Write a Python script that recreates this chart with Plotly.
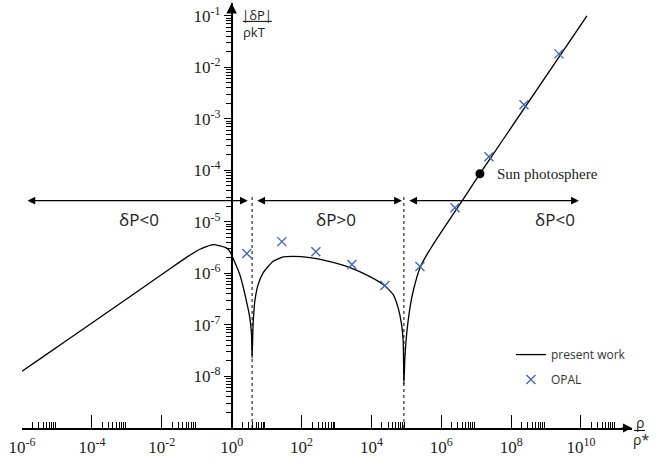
import numpy as np
import plotly.graph_objects as go

# ---- data ----
# present work: rho/rho*  and |dP|/(rho k T)
curve_rho = [1.0e-6, 3.60e-6, 8.69e-5, 1.36e-2, 5.10e-2, 0.1227, 0.295, 0.713, 0.887,
             1.714, 2.667, 3.319, 3.707, 3.855, 4.121, 4.613, 5.728, 7.98, 15.42, 29.79,
             57.68, 173.8, 645.7, 2455, 9120, 2.18e4, 4.21e4, 5.85e4, 7.33e4, 8.15e4,
             8.53e4, 9.10e4, 1.02e5, 1.27e5, 1.57e5, 2.45e5, 3.88e5, 1.11e6, 4.17e6,
             1.28e7, 5.83e7, 1.48e10]
curve_dp = [1.26e-8, 2.30e-8, 1.02e-7, 1.10e-6, 2.05e-6, 2.95e-6, 3.62e-6, 3.13e-6, 2.69e-6,
            9.51e-7, 2.88e-7, 1.37e-7, 6.52e-8, 2.30e-8, 1.02e-7, 2.88e-7, 6.08e-7, 1.03e-6,
            1.72e-6, 2.09e-6, 2.15e-6, 2.03e-6, 1.70e-6, 1.30e-6, 8.69e-7, 6.08e-7, 3.89e-7,
            2.15e-7, 1.02e-7, 4.83e-8, 7.0e-9, 2.30e-8, 6.52e-8, 2.15e-7, 4.51e-7, 1.28e-6,
            2.32e-6, 7.08e-6, 2.70e-5, 8.63e-5, 3.94e-4, 1.0e-1]

opal_rho = [2.72, 27.4, 258, 2770, 2.44e4, 2.45e5, 2.47e6, 2.32e7, 2.33e8, 2.34e9]
opal_dp = [2.43e-6, 4.15e-6, 2.65e-6, 1.49e-6, 5.81e-7, 1.36e-6, 1.89e-5, 1.85e-4, 1.88e-3, 1.83e-2]

sun_rho = [1.28e7]
sun_dp = [8.63e-5]

# sign-change densities (dotted lines) and their vertical extent
cusp_rho = [3.855, 8.53e4]
cusp_span = [1e-9, 3.4e-5]

# region arrows: (start, end) in rho, drawn at level arrow_dp
region_arrows = [(1.3e-6, 2.9), (4.9, 7.5e4), (1.1e5, 8.7e9)]
arrow_dp = 2.59e-5
region_labels = ["δP<0", "δP>0", "δP<0"]
region_label_rho = [2.2e-3, 955, 1.78e9]
region_label_dp = 1.13e-5

x_major = [1e-6, 1e-4, 1e-2, 1e0, 1e2, 1e4, 1e6, 1e8, 1e10]
x_major_text = ["10<sup>-6</sup>", "10<sup>-4</sup>", "10<sup>-2</sup>", "10<sup>0</sup>",
                "10<sup>2</sup>", "10<sup>4</sup>", "10<sup>6</sup>", "10<sup>8</sup>",
                "10<sup>10</sup>"]
y_major = [1e-8, 1e-7, 1e-6, 1e-5, 1e-4, 1e-3, 1e-2, 1e-1]
y_major_text = ["10<sup>-8</sup>", "10<sup>-7</sup>", "10<sup>-6</sup>", "10<sup>-5</sup>",
                "10<sup>-4</sup>", "10<sup>-3</sup>", "10<sup>-2</sup>", "10<sup>-1</sup>"]

# minor ticks: 2..9 within the first decade after each labelled x tick; every decade on y
x_minor = [m * v for v in x_major for m in range(2, 10)]
y_minor = [m * 10.0 ** k for k in range(-9, -1) for m in range(2, 10)]

# ---- layout geometry ----
W, H = 669, 465
L, R, T, B = 22.3, 632.0, 2.6, 428.0
x_range = [-6.0, -6.0 + (R - L) / 34.92]
y_range = [-9.0, -0.75]
y_axis_pos = (0 - x_range[0]) / (x_range[1] - x_range[0])


def px(xp):
    return (xp - L) / (R - L)


def py(yp):
    return (B - yp) / (B - T)


BLACK = "#000000"
BLUE = "#4466bb"
SANS = "Open Sans"
SERIF = "Liberation Serif"
TXT = "#222222"

fig = go.Figure()

fig.add_trace(go.Scatter(x=curve_rho, y=curve_dp, mode="lines",
                         line=dict(color=BLACK, width=1.3, shape="spline", smoothing=0.5),
                         name="present work", legendgroup="a"))
fig.add_trace(go.Scatter(x=opal_rho, y=opal_dp, mode="markers",
                         marker=dict(symbol="x-thin", size=9, color=BLUE,
                                     line=dict(color=BLUE, width=1.4)),
                         name="OPAL", legendgroup="b"))
for c in cusp_rho:
    fig.add_trace(go.Scatter(x=[c, c], y=cusp_span, mode="lines",
                             line=dict(color=BLACK, width=1, dash="dot"),
                             showlegend=False, hoverinfo="skip"))
# sun point drawn on the overlay x axis (same range) which carries the minor ticks
fig.add_trace(go.Scatter(x=sun_rho, y=sun_dp, mode="markers", xaxis="x2", yaxis="y",
                         marker=dict(symbol="circle", size=9, color=BLACK),
                         showlegend=False))

annotations = []
for (a, b) in region_arrows:
    annotations.append(dict(x=np.log10(b), y=np.log10(arrow_dp), ax=np.log10(a),
                            ay=np.log10(arrow_dp), xref="x", yref="y", axref="x", ayref="y",
                            showarrow=True, arrowhead=2, startarrowhead=2, arrowside="end+start",
                            arrowsize=1.3, startarrowsize=1.3, arrowwidth=1.2,
                            arrowcolor=BLACK, text="", standoff=0, startstandoff=0))
for lab, lx in zip(region_labels, region_label_rho):
    annotations.append(dict(x=np.log10(lx), y=np.log10(region_label_dp), xref="x", yref="y",
                            text=lab, showarrow=False, xanchor="center", yanchor="middle",
                            font=dict(family=SANS, size=17, color=TXT)))
annotations.append(dict(x=np.log10(sun_rho[0]), y=np.log10(sun_dp[0]), xref="x", yref="y",
                        text="Sun photosphere", showarrow=False, xanchor="left",
                        yanchor="middle", xshift=15,
                        font=dict(family=SERIF, size=15, color=TXT)))
# axis arrows
annotations.append(dict(x=1, y=0, xref="paper", yref="paper", ax=-12, ay=0,
                        showarrow=True, arrowhead=2, arrowsize=1.5, arrowwidth=1.2,
                        arrowcolor=BLACK, text="", standoff=0))
annotations.append(dict(x=y_axis_pos, y=1, xref="paper", yref="paper", ax=0, ay=12,
                        showarrow=True, arrowhead=2, arrowsize=1.5, arrowwidth=1.4,
                        arrowcolor=BLACK, text="", standoff=0))
# axis titles as fractions
for txt, xx, yy, sz in [("|δP|", 257.5, 15, 13), ("ρkT", 255, 31.5, 13),
                        ("ρ", 639.5, 422, 14), ("ρ*", 641, 439.5, 14)]:
    annotations.append(dict(x=px(xx), y=py(yy), xref="paper", yref="paper", text=txt,
                            showarrow=False, xanchor="center", yanchor="middle",
                            font=dict(family=SANS, size=sz, color=TXT)))

shapes = [
    dict(type="line", xref="paper", yref="paper", x0=px(243), x1=px(272), y0=py(21), y1=py(21),
         line=dict(color=BLACK, width=1)),
    dict(type="line", xref="paper", yref="paper", x0=px(634), x1=px(645), y0=py(430.5),
         y1=py(430.5), line=dict(color=BLACK, width=1)),
]

fig.update_layout(
    width=W, height=H,
    margin=dict(l=L, r=W - R, t=T, b=H - B, pad=0),
    paper_bgcolor="white", plot_bgcolor="white",
    showlegend=True,
    legend=dict(x=px(511), y=py(340), xanchor="left", yanchor="top",
                font=dict(family=SANS, size=12, color="#333333"),
                bgcolor="rgba(0,0,0,0)", tracegroupgap=6),
    annotations=annotations,
    shapes=shapes,
    xaxis=dict(type="log", range=x_range, showgrid=False, zeroline=False,
               showline=True, linecolor=BLACK, linewidth=1.5,
               tickmode="array", tickvals=x_major, ticktext=x_major_text,
               ticks="inside", ticklen=13, tickwidth=1, tickcolor=BLACK,
               ticklabelstandoff=3,
               tickfont=dict(family=SERIF, size=17, color=TXT)),
    xaxis2=dict(type="log", range=x_range, overlaying="x", anchor="y", side="bottom",
                showgrid=False, zeroline=False, showline=False,
                tickmode="array", tickvals=x_minor, showticklabels=False,
                ticks="inside", ticklen=6, tickwidth=1, tickcolor=BLACK),
    yaxis=dict(type="log", range=y_range, showgrid=False, zeroline=False,
               anchor="free", position=y_axis_pos,
               showline=True, linecolor=BLACK, linewidth=1.6,
               tickmode="array", tickvals=y_major, ticktext=y_major_text,
               ticks="outside", ticklen=7, tickwidth=1, tickcolor=BLACK,
               tickfont=dict(family=SERIF, size=17, color=TXT),
               minor=dict(tickmode="array", tickvals=y_minor, ticks="outside", ticklen=5,
                          tickwidth=1, tickcolor=BLACK, showgrid=False)),
)

fig.write_html("out.html")
